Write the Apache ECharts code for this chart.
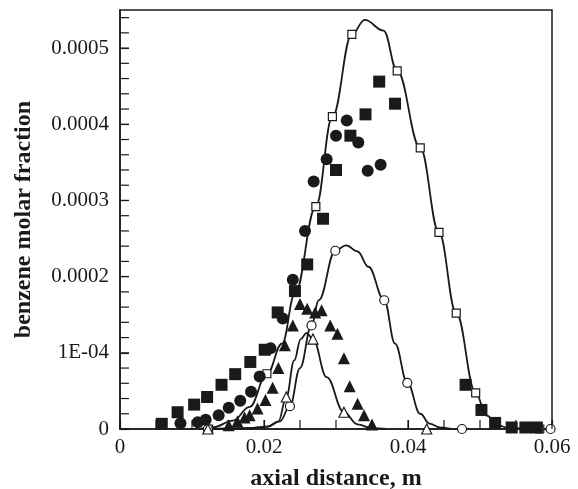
<!DOCTYPE html>
<html>
<head>
<meta charset="utf-8">
<script src="https://cdn.jsdelivr.net/npm/echarts@6/dist/echarts.min.js"></script>
<style>
html,body{margin:0;padding:0;background:#fff;}
#chart{width:578px;height:489px;}
</style>
</head>
<body>
<div id="chart"></div>
<script>
// ---- data (x in m, y molar fraction) ----
const xTickLabels = ['0', '0.02', '0.04', '0.06'];
const yTickLabels = ['0', '1E-04', '0.0002', '0.0003', '0.0004', '0.0005'];

const curveSquare = [[0.0110,0],[0.0130,0.0000025],[0.0157,0.000011],[0.0180,0.000029],[0.0204,0.000072],[0.0225,0.000112],[0.0243,0.000178],[0.0272,0.000292],[0.0295,0.000410],[0.0322,0.000518],[0.0340,0.000537],[0.0366,0.000523],[0.0385,0.000470],[0.0417,0.000369],[0.0443,0.000258],[0.0467,0.000152],[0.0494,0.0000475],[0.0509,0.0000177],[0.0525,0.000005],[0.0540,0.000001],[0.0583,0]];
const curveCircle = [[0.0130,0],[0.0180,0.000001],[0.0205,0.000003],[0.0222,0.000010],[0.0236,0.000030],[0.0250,0.000080],[0.0266,0.000136],[0.0276,0.000169],[0.0299,0.000234],[0.0314,0.000241],[0.0330,0.000233],[0.0345,0.000213],[0.0367,0.000169],[0.0382,0.000112],[0.0399,0.000061],[0.0417,0.000020],[0.0430,0.000007],[0.0444,0.000002],[0.0460,0]];
const curveTriangle = [[0.0130,0],[0.0180,0.000001],[0.0205,0.000003],[0.0220,0.000010],[0.0231,0.000042],[0.0242,0.000090],[0.0251,0.000118],[0.0259,0.000126],[0.0268,0.000118],[0.0287,0.000068],[0.0311,0.000022],[0.0330,0.000006],[0.0350,0.000001],[0.0370,0]];

const openSquares = [[0.0123,0],[0.0204,0.0000725],[0.0272,0.000292],[0.0295,0.000410],[0.0322,0.000518],[0.0385,0.000470],[0.0417,0.000369],[0.0443,0.000258],[0.0467,0.000152],[0.0494,0.0000475],[0.0583,0]];
const openCircles = [[0.0122,0],[0.0236,0.000030],[0.0266,0.000136],[0.0299,0.000234],[0.0367,0.000169],[0.0399,0.0000606],[0.0475,0],[0.0598,0]];
const openTriangles = [[0.0122,0],[0.0231,0.000042],[0.0268,0.000118],[0.0311,0.000022],[0.0426,0]];

const filledSquares = [[0.0058,0.0000068],[0.0080,0.000022],[0.0103,0.000032],[0.0121,0.000042],[0.0141,0.000058],[0.0160,0.000072],[0.0181,0.000088],[0.0201,0.000104],[0.0219,0.000153],[0.0243,0.000181],[0.0260,0.000216],[0.0282,0.000276],[0.0300,0.000340],[0.0320,0.000385],[0.0341,0.000413],[0.0360,0.000456],[0.0382,0.000427],[0.0480,0.000058],[0.0502,0.000025],[0.0521,0.000008],[0.0544,0.000002],[0.0563,0.000002],[0.0579,0.000002]];
const filledCircles = [[0.0084,0.0000076],[0.0108,0.000009],[0.0119,0.000012],[0.0137,0.000018],[0.0151,0.000028],[0.0167,0.000037],[0.0182,0.000049],[0.0194,0.000069],[0.0209,0.000106],[0.0226,0.000145],[0.0240,0.000196],[0.0257,0.000260],[0.0269,0.000325],[0.0287,0.000354],[0.0300,0.000385],[0.0315,0.000405],[0.0331,0.000376],[0.0344,0.000339],[0.0362,0.000347]];
const filledTriangles = [[0.0151,0.000005],[0.0163,0.000010],[0.0173,0.000015],[0.0180,0.000018],[0.0191,0.000027],[0.0202,0.000038],[0.0212,0.000054],[0.0220,0.000080],[0.0229,0.000110],[0.0240,0.000136],[0.0250,0.000164],[0.0260,0.000158],[0.0271,0.000153],[0.0280,0.000156],[0.0292,0.000136],[0.0302,0.000125],[0.0311,0.000093],[0.0319,0.000056],[0.0330,0.000033],[0.0339,0.000018],[0.0350,0.000006]];

// ---- chart ----
const FONT = '"Liberation Serif", "Times New Roman", serif';
const INK = '#1a1a1a';
const X_MIN = 0, X_MAX = 0.06, Y_MIN = 0, Y_MAX = 0.00055;
const X_MINOR = 0.005, Y_MINOR = 0.00002, TICK_LEN = 9;
const chart = echarts.init(document.getElementById('chart'));

function curve(data) {
  return {type: 'line', data: data, smooth: 0.4, smoothMonotone: 'x', showSymbol: false, symbol: 'none',
    lineStyle: {color: INK, width: 1.8}, z: 2, silent: true};
}
function marks(data, symbol, size, filled) {
  return {type: 'scatter', data: data, symbol: symbol, symbolSize: size,
    itemStyle: filled ? {color: INK, borderWidth: 0, opacity: 1}
                      : {color: '#fff', borderColor: INK, borderWidth: 1.2, opacity: 1},
    z: filled ? 4 : 3, silent: true};
}

chart.setOption({
  animation: false,
  backgroundColor: '#fff',
  grid: {left: 120, right: 26, top: 10, bottom: 60, containLabel: false, outerBoundsMode: 'none',
    show: true, borderColor: INK, borderWidth: 1.5, backgroundColor: 'transparent'},
  xAxis: {
    type: 'value', position: 'bottom', min: X_MIN, max: X_MAX, interval: 0.02,
    name: 'axial distance, m', nameLocation: 'middle', nameGap: 38,
    nameTextStyle: {fontFamily: FONT, fontWeight: 'bold', fontSize: 24, color: INK},
    axisLine: {show: true, onZero: false, lineStyle: {color: INK, width: 1.5}},
    axisTick: {show: true, inside: true, length: TICK_LEN, lineStyle: {color: INK, width: 1.2}},
    splitLine: {show: false},
    axisLabel: {fontFamily: FONT, fontSize: 21, color: INK, margin: 8, showMaxLabel: true, showMinLabel: true,
      formatter: function (v) { return xTickLabels[Math.round(v / 0.02)] || ''; }}
  },
  yAxis: {
    type: 'value', position: 'left', min: Y_MIN, max: Y_MAX, interval: 0.0001,
    name: 'benzene molar fraction', nameLocation: 'middle', nameGap: 84, nameRotate: 90,
    nameTextStyle: {fontFamily: FONT, fontWeight: 'bold', fontSize: 24, color: INK},
    axisLine: {show: true, onZero: false, lineStyle: {color: INK, width: 1.5}},
    axisTick: {show: true, inside: true, length: TICK_LEN, lineStyle: {color: INK, width: 1.2}},
    splitLine: {show: false},
    axisLabel: {fontFamily: FONT, fontSize: 21, color: INK, margin: 11, showMaxLabel: false,
      formatter: function (v) { const k = Math.round(v / 0.0001 * 1000) / 1000; return Number.isInteger(k) ? (yTickLabels[k] || '') : ''; }}
  },
  series: [
    curve(curveSquare),
    curve(curveCircle),
    curve(curveTriangle),
    marks(openSquares, 'rect', 8, false),
    marks(openCircles, 'circle', 9, false),
    marks(openTriangles, 'triangle', 10, false),
    marks(filledSquares, 'rect', 12, true),
    marks(filledCircles, 'circle', 12, true),
    marks(filledTriangles, 'triangle', 12, true)
  ]
});

// Inward minor/major ticks placed through the chart's own axis scales
const tickEls = [];
const nX = Math.round((X_MAX - X_MIN) / X_MINOR);
for (let i = 0; i <= nX; i++) {
  const p = chart.convertToPixel({gridIndex: 0}, [X_MIN + i * X_MINOR, Y_MIN]);
  if (!p) continue;
  tickEls.push({type: 'line', silent: true, z: 10,
    shape: {x1: p[0], y1: p[1], x2: p[0], y2: p[1] - TICK_LEN},
    style: {stroke: INK, lineWidth: 1.2}});
}
const nY = Math.floor((Y_MAX - Y_MIN) / Y_MINOR + 1e-9);
for (let j = 0; j <= nY; j++) {
  const p = chart.convertToPixel({gridIndex: 0}, [X_MIN, Y_MIN + j * Y_MINOR]);
  if (!p) continue;
  tickEls.push({type: 'line', silent: true, z: 10,
    shape: {x1: p[0], y1: p[1], x2: p[0] + TICK_LEN, y2: p[1]},
    style: {stroke: INK, lineWidth: 1.2}});
}
chart.setOption({graphic: {elements: tickEls}});
</script>
</body>
</html>
